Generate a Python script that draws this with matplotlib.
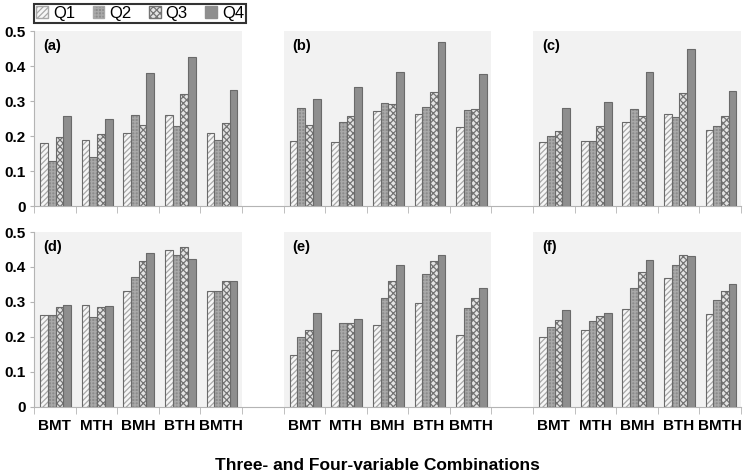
import matplotlib
matplotlib.use('Agg')
import matplotlib.pyplot as plt
from matplotlib.patches import Patch

plt.rcParams['font.family'] = ['Liberation Sans', 'DejaVu Sans']
plt.rcParams['hatch.linewidth'] = 0.9

combos = ['BMT', 'MTH', 'BMH', 'BTH', 'BMTH']
quarters = ['Q1', 'Q2', 'Q3', 'Q4']
panel_names = ['(a)', '(b)', '(c)', '(d)', '(e)', '(f)']

# values per panel, one list per quarter (BMT, MTH, BMH, BTH, BMTH)
a_vals = [[0.180, 0.190, 0.210, 0.261, 0.210],
          [0.130, 0.139, 0.260, 0.230, 0.188],
          [0.198, 0.206, 0.231, 0.321, 0.238],
          [0.256, 0.250, 0.380, 0.426, 0.332]]
b_vals = [[0.186, 0.182, 0.272, 0.264, 0.225],
          [0.280, 0.241, 0.295, 0.284, 0.274],
          [0.231, 0.258, 0.292, 0.325, 0.276],
          [0.306, 0.341, 0.382, 0.470, 0.378]]
c_vals = [[0.182, 0.186, 0.240, 0.262, 0.216],
          [0.201, 0.187, 0.277, 0.255, 0.228],
          [0.214, 0.230, 0.258, 0.323, 0.256],
          [0.280, 0.298, 0.382, 0.448, 0.330]]
d_vals = [[0.262, 0.291, 0.330, 0.450, 0.330],
          [0.262, 0.256, 0.372, 0.435, 0.332],
          [0.287, 0.285, 0.418, 0.458, 0.361],
          [0.292, 0.288, 0.441, 0.423, 0.361]]
e_vals = [[0.148, 0.163, 0.233, 0.296, 0.207],
          [0.200, 0.240, 0.310, 0.380, 0.282],
          [0.220, 0.241, 0.360, 0.418, 0.310],
          [0.268, 0.251, 0.405, 0.433, 0.341]]
f_vals = [[0.201, 0.220, 0.280, 0.369, 0.265],
          [0.228, 0.247, 0.341, 0.406, 0.306],
          [0.248, 0.259, 0.386, 0.435, 0.331],
          [0.278, 0.268, 0.421, 0.430, 0.350]]
rows = [[a_vals, b_vals, c_vals], [d_vals, e_vals, f_vals]]

# bar styles: face, hatch, hatch colour
styles = [('#f6f6f6', '//////', '#a8a8a8'),
          ('#8c8c8c', '+++++', '#a9a9a9'),
          ('#e4e4e4', 'xxxxx', '#747474'),
          ('#8e8e8e', '', '#8e8e8e')]
edge = '#6a6a6a'
axis_grey = '#b4b4b4'
width = 0.185
gap = 6  # 5 categories + one empty slot

fig = plt.figure(figsize=(7.45, 4.76), dpi=100)
ax_top = fig.add_axes([0.0456, 0.5672, 0.949, 0.3676])
ax_bot = fig.add_axes([0.0456, 0.145, 0.949, 0.3676])

for r, ax in enumerate([ax_top, ax_bot]):
    centers = []
    for p, vals in enumerate(rows[r]):
        start = p * gap
        ax.axvspan(start - 0.5, start + 4.5, color='#f2f2f2', zorder=0, lw=0)
        ax.text(start - 0.28, 0.457, panel_names[r * 3 + p], fontsize=10.5,
                fontweight='bold', va='center', ha='left')
        for q in range(4):
            xs = [start + k + (q - 1.5) * width + 0.02 for k in range(len(combos))]
            face, hatch, hcol = styles[q]
            ax.bar(xs, vals[q], width, color=face, hatch=hatch, edgecolor=hcol,
                   lw=0, zorder=2)
            ax.bar(xs, vals[q], width, fill=False, edgecolor=edge, lw=0.8, zorder=3)
        centers += [start + k for k in range(len(combos))]

    ax.set_xlim(-0.5, 16.5)
    ax.set_ylim(0, 0.5)
    ax.set_yticks([0, 0.1, 0.2, 0.3, 0.4, 0.5])
    ax.set_yticklabels(['0', '0.1', '0.2', '0.3', '0.4', '0.5'],
                       fontsize=11, fontweight='bold')
    ax.tick_params(axis='y', length=3, color=axis_grey, pad=3)
    ax.set_xticks([i - 0.5 for i in range(18)], minor=True)
    ax.set_xticks(centers)
    if r == 1:
        ax.set_xticklabels(combos * 3, fontsize=11, fontweight='bold')
    else:
        ax.set_xticklabels([])
    ax.tick_params(axis='x', which='major', length=0, pad=9)
    ax.tick_params(axis='x', which='minor', length=5, color=axis_grey)
    for s in ['top', 'right']:
        ax.spines[s].set_visible(False)
    ax.spines['bottom'].set_color(axis_grey)
    ax.spines['left'].set_color(axis_grey)
    ax.set_facecolor('white')

fig.text(0.507, 0.022, 'Three- and Four-variable Combinations', fontsize=12.5,
         fontweight='bold', ha='center', va='center')

handles = [Patch(facecolor=styles[q][0], hatch=styles[q][1], edgecolor=styles[q][2])
           for q in range(4)]
leg = fig.legend(handles, quarters, loc='upper left', bbox_to_anchor=(0.046, 0.992),
                 ncol=4, fontsize=12, frameon=True, fancybox=False,
                 handlelength=0.7, handleheight=0.7, handletextpad=0.3,
                 columnspacing=1.05, borderpad=0.12, borderaxespad=0)
leg.get_frame().set_edgecolor('black')
leg.get_frame().set_linewidth(1.5)

fig.savefig('out.png', dpi=100)
